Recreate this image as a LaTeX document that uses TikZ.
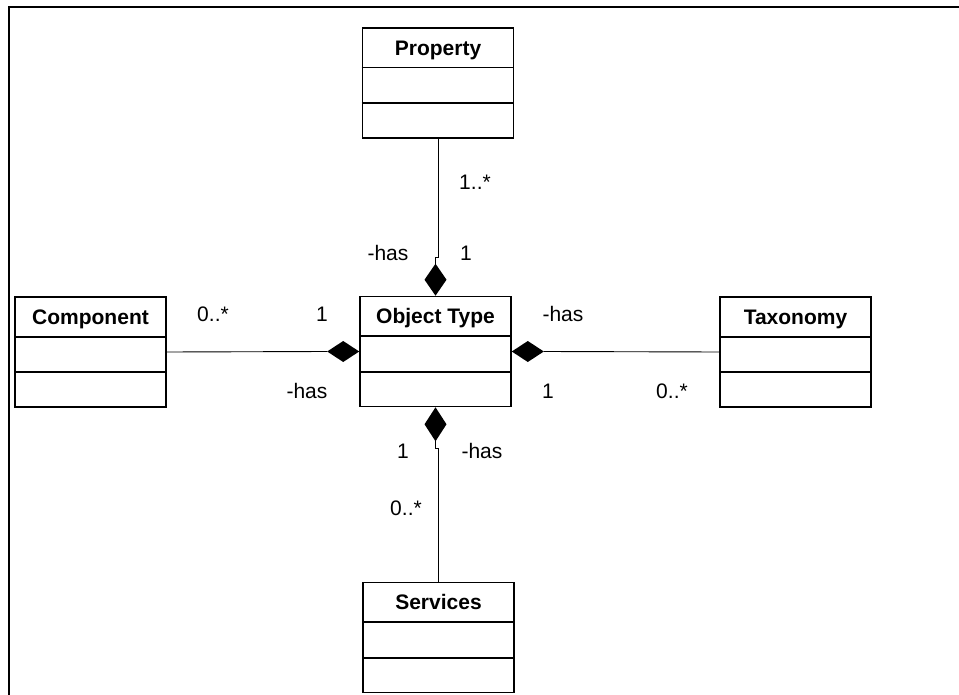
\documentclass[tikz,border=0pt]{standalone}
\usepackage{fontspec}
\setmainfont{Liberation Sans}
\usetikzlibrary{calc}
\begin{document}
\begin{tikzpicture}[x=1pt,y=-1pt,
  umlbox/.style={draw,line width=1.6pt,minimum width=151pt,minimum height=110pt,inner sep=0pt},
  divider/.style={line width=1.6pt},
  title/.style={font=\fontsize{21}{25}\selectfont\bfseries,anchor=base,inner sep=0pt},
  lbl/.style={font=\fontsize{21}{25}\selectfont,anchor=base,inner sep=0pt},
  conn/.style={line width=0.9pt},
  frame/.style={line width=2.4pt},
  compo/.style={fill=black}]
\useasboundingbox (0,0) rectangle (959,695);
\fill[white] (0,0) rectangle (959,695);

% outer frame (top and left edges)
\draw[frame] (959,7) -- (9,7) -- (9,695);

% class boxes
\node[umlbox] (prop) at (438,83) {};
\node[umlbox] (obj)  at (435.5,351.5) {};
\node[umlbox] (comp) at (90.5,352) {};
\node[umlbox] (tax)  at (795.5,352) {};
\node[umlbox] (serv) at (438.5,637.5) {};

% compartments and class names
\foreach \b/\t in {prop/Property,obj/Object Type,comp/Component,tax/Taxonomy,serv/Services}{
  \draw[divider] ($(\b.north west)+(0,40.5)$) -- ($(\b.north east)+(0,40.5)$);
  \draw[divider] ($(\b.north west)+(0,76)$) -- ($(\b.north east)+(0,76)$);
  \node[title] (\b-name) at ($(\b.north)+(0,28)$) {\t};
}

% composition diamonds on Object Type
\coordinate (dTop)   at ($(obj.north)+(0,-32)$);
\coordinate (dBot)   at ($(obj.south)+(0,34)$);
\coordinate (dLeft)  at ($(obj.west)+(-32,0)$);
\coordinate (dRight) at ($(obj.east)+(32,0)$);
\fill[compo] (obj.north) -- ++(-11,-16) -- (dTop) -- ++(11,16) -- cycle;
\fill[compo] (obj.south) -- ++(-11,17) -- (dBot) -- ++(11,-17) -- cycle;
\fill[compo] (obj.west) -- ++(-16,-10.5) -- (dLeft) -- ++(16,10.5) -- cycle;
\fill[compo] (obj.east) -- ++(16,-10.5) -- (dRight) -- ++(-16,10.5) -- cycle;

% associations
\draw[conn] (prop.south) -- ++(0,119) -| (dTop);
\draw[conn] (dBot) -- ++(0,7) -| (serv.north);
\draw[conn] (comp.east) -- (dLeft);
\draw[conn] (dRight) -- (tax.west);

% role names and multiplicities
\node[lbl] (l1)  at (388,261) {-has};
\node[lbl] (l2)  at (466,261) {1};
\node[lbl] (l3)  at (475,190) {1..*};
\node[lbl] (l4)  at (213,321) {0..*};
\node[lbl] (l5)  at (322,321) {1};
\node[lbl] (l6)  at (307,398) {-has};
\node[lbl] (l7)  at (563,321) {-has};
\node[lbl] (l8)  at (548,398) {1};
\node[lbl] (l9)  at (672,398) {0..*};
\node[lbl] (l10) at (403,458) {1};
\node[lbl] (l11) at (482,458) {-has};
\node[lbl] (l12) at (406,515) {0..*};
\end{tikzpicture}
\end{document}
